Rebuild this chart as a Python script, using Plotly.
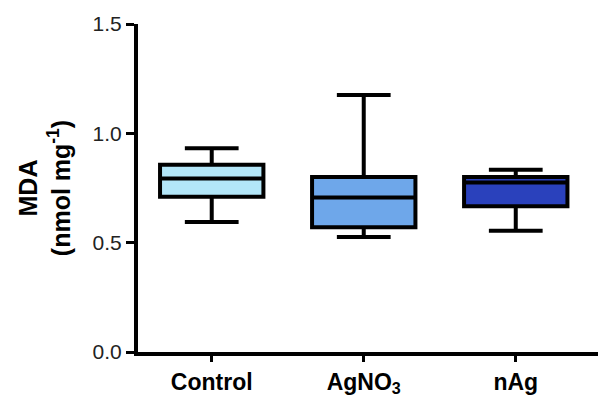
import plotly.graph_objects as go

categories = ["Control", "AgNO<sub>3</sub>", "nAg"]
lower_whisker = [0.594, 0.526, 0.554]
q1_vals = [0.710, 0.571, 0.666]
median_vals = [0.793, 0.707, 0.775]
q3_vals = [0.856, 0.800, 0.800]
upper_whisker = [0.932, 1.175, 0.834]
fill_colors = ["#B3E6F8", "#6EA7EA", "#2A41BC"]
y_ticks = [0.0, 0.5, 1.0, 1.5]
y_tick_labels = ["0.0", "0.5", "1.0", "1.5"]

fig = go.Figure()
for i, cat in enumerate(categories):
    fig.add_trace(go.Box(
        x=[i],
        q1=[q1_vals[i]],
        median=[median_vals[i]],
        q3=[q3_vals[i]],
        lowerfence=[lower_whisker[i]],
        upperfence=[upper_whisker[i]],
        fillcolor=fill_colors[i],
        line=dict(color="black", width=4),
        width=0.68,
        whiskerwidth=0.52,
        boxpoints=False,
        showlegend=False,
        hoverinfo="skip",
    ))

fig.update_layout(
    width=598, height=397,
    margin=dict(l=138, r=0, t=24, b=42),
    plot_bgcolor="white", paper_bgcolor="white",
    boxmode="overlay",
    font=dict(family="Arial, Liberation Sans, sans-serif", color="black"),
    xaxis=dict(
        range=[-0.485, 2.541],
        tickvals=[0, 1, 2],
        ticktext=["<b>" + c + "</b>" for c in categories],
        showline=True, linecolor="black", linewidth=4,
        ticks="outside", ticklen=6, tickwidth=3, tickcolor="black",
        tickfont=dict(size=23, color="black"),
        showgrid=False, zeroline=False,
    ),
    yaxis=dict(
        range=[0, 1.5],
        tickvals=y_ticks,
        ticktext=y_tick_labels,
        showline=True, linecolor="black", linewidth=4,
        ticks="outside", ticklen=8, tickwidth=3, tickcolor="black",
        tickfont=dict(size=21, color="#222"),
        showgrid=False, zeroline=False,
        title=dict(text="<b>MDA<br>(nmol mg<sup>-1</sup>)</b>", font=dict(size=25), standoff=16),
    ),
)

fig.write_html("out.html", config={"displayModeBar": False},
               post_script="document.body.style.margin='0';document.body.style.overflow='hidden';")
